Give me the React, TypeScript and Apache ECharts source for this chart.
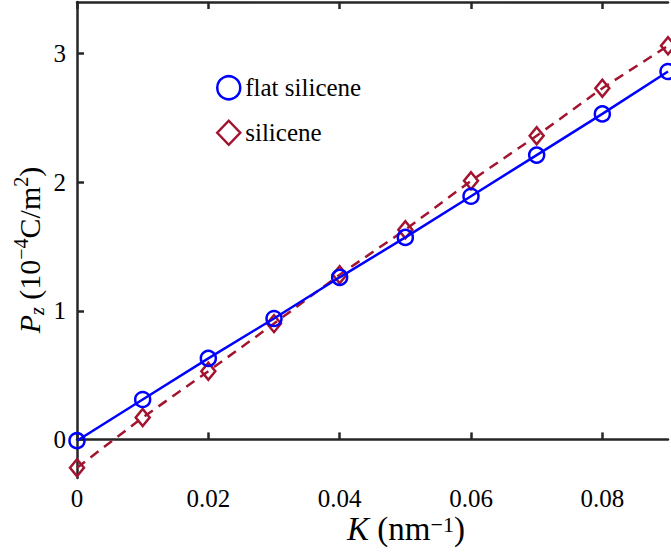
import React, { useEffect, useRef } from "react";
import * as echarts from "echarts";

const kValues = [0, 0.01, 0.02, 0.03, 0.04, 0.05, 0.06, 0.07, 0.08, 0.09];
const flatSilicene = [-0.01, 0.31, 0.63, 0.94, 1.26, 1.57, 1.89, 2.21, 2.53, 2.86];
const silicene = [-0.22, 0.17, 0.53, 0.9, 1.28, 1.63, 2.01, 2.36, 2.73, 3.06];
const xTicks = [0, 0.02, 0.04, 0.06, 0.08];
const yTicks = [0, 1, 2, 3];

const FONT = "'Liberation Serif', 'Times New Roman', 'DejaVu Serif', serif";
const AXIS_COLOR = "#262626";
const BLUE = "#0000ff";
const RED = "#a2142f";

export default function App() {
  const ref = useRef<HTMLDivElement>(null);
  useEffect(() => {
    if (!ref.current) return;
    const chart = echarts.init(ref.current, null, { renderer: "svg" });
    const axisLine = { show: true, lineStyle: { color: AXIS_COLOR, width: 2.5 } };
    chart.setOption({
      animation: false,
      backgroundColor: "#fff",
      textStyle: { fontFamily: FONT },
      grid: { left: 77, right: 3, top: 2, bottom: 75, outerBoundsMode: "none", containLabel: false },
      legend: {
        orient: "vertical",
        left: 216,
        top: 75,
        padding: 0,
        itemWidth: 23,
        itemHeight: 24,
        itemGap: 19,
        textStyle: { fontFamily: FONT, fontSize: 25, lineHeight: 24, color: "#000" },
        data: [
          {
            name: "flat silicene",
            icon: "circle",
            itemStyle: { color: "rgba(0,0,0,0)", borderColor: BLUE, borderWidth: 2.5 },
          },
          {
            name: "silicene",
            icon: "diamond",
            itemStyle: { color: "rgba(0,0,0,0)", borderColor: RED, borderWidth: 2.5 },
          },
        ],
      },
      xAxis: [
        {
          type: "value",
          min: 0,
          max: 0.09,
          position: "bottom",
          axisLine,
          splitLine: { show: false },
          axisTick: { show: true, inside: true, length: 7, lineStyle: { color: AXIS_COLOR, width: 2.5 }, customValues: xTicks },
          axisLabel: {
            customValues: xTicks,
            margin: 8,
            fontFamily: FONT,
            fontSize: 25,
            lineHeight: 25,
            color: "#000",
            formatter: (v: number) => (v === 0 ? "0" : v.toFixed(2)),
          },
        },
        {
          type: "value",
          min: 0,
          max: 0.09,
          position: "top",
          axisLine,
          splitLine: { show: false },
          axisTick: { show: true, inside: true, length: 7, lineStyle: { color: AXIS_COLOR, width: 2.5 }, customValues: xTicks },
          axisLabel: { show: false },
        },
      ],
      yAxis: {
        type: "value",
        min: -0.3,
        max: 3.4,
        axisLine,
        splitLine: { show: false },
        axisTick: { show: true, inside: true, length: 7, lineStyle: { color: AXIS_COLOR, width: 2.5 }, customValues: yTicks },
        axisLabel: {
          customValues: yTicks,
          margin: 11,
          fontFamily: FONT,
          fontSize: 25,
          color: "#000",
        },
      },
      series: [
        {
          name: "flat silicene",
          type: "line",
          data: kValues.map((k, i) => [k, flatSilicene[i]]),
          symbol: "circle",
          symbolSize: 15,
          itemStyle: { color: "rgba(0,0,0,0)", borderColor: BLUE, borderWidth: 2.5 },
          lineStyle: { color: BLUE, width: 2.5 },
          clip: false,
          z: 3,
        },
        {
          name: "silicene",
          type: "line",
          data: kValues.map((k, i) => [k, silicene[i]]),
          symbol: "diamond",
          symbolSize: [14, 17],
          itemStyle: { color: "rgba(0,0,0,0)", borderColor: RED, borderWidth: 2.5 },
          lineStyle: { color: RED, width: 2.5, type: [10, 7] },
          clip: false,
          z: 2,
        },
      ],
      graphic: [
        {
          type: "text",
          x: 29,
          y: 250,
          rotation: Math.PI / 2,
          style: {
            text: "{i|P}{sub|z}{n| (10}{sup|−4}{n|C/m}{sup|2}{n|)}",
            align: "center",
            verticalAlign: "middle",
            fill: "#000",
            rich: {
              i: { fontFamily: FONT, fontStyle: "italic", fontSize: 30, lineHeight: 36, verticalAlign: "middle" },
              sub: { fontFamily: FONT, fontStyle: "italic", fontSize: 20, lineHeight: 36, verticalAlign: "bottom" },
              n: { fontFamily: FONT, fontSize: 30, lineHeight: 36, verticalAlign: "middle" },
              sup: { fontFamily: FONT, fontSize: 20, lineHeight: 36, verticalAlign: "top" },
            },
          },
        },
        {
          type: "text",
          x: 406,
          y: 529,
          style: {
            text: "{i|K}{n| (nm}{sup|−1}{n|)}",
            align: "center",
            verticalAlign: "middle",
            fill: "#000",
            rich: {
              i: { fontFamily: FONT, fontStyle: "italic", fontSize: 33, lineHeight: 32, verticalAlign: "middle" },
              n: { fontFamily: FONT, fontSize: 33, lineHeight: 32, verticalAlign: "middle" },
              sup: { fontFamily: FONT, fontSize: 22, lineHeight: 32, verticalAlign: "top" },
            },
          },
        },
      ],
    });
    return () => chart.dispose();
  }, []);
  return <div ref={ref} style={{ width: 671, height: 553, position: "absolute", left: 0, top: 0 }} />;
}
